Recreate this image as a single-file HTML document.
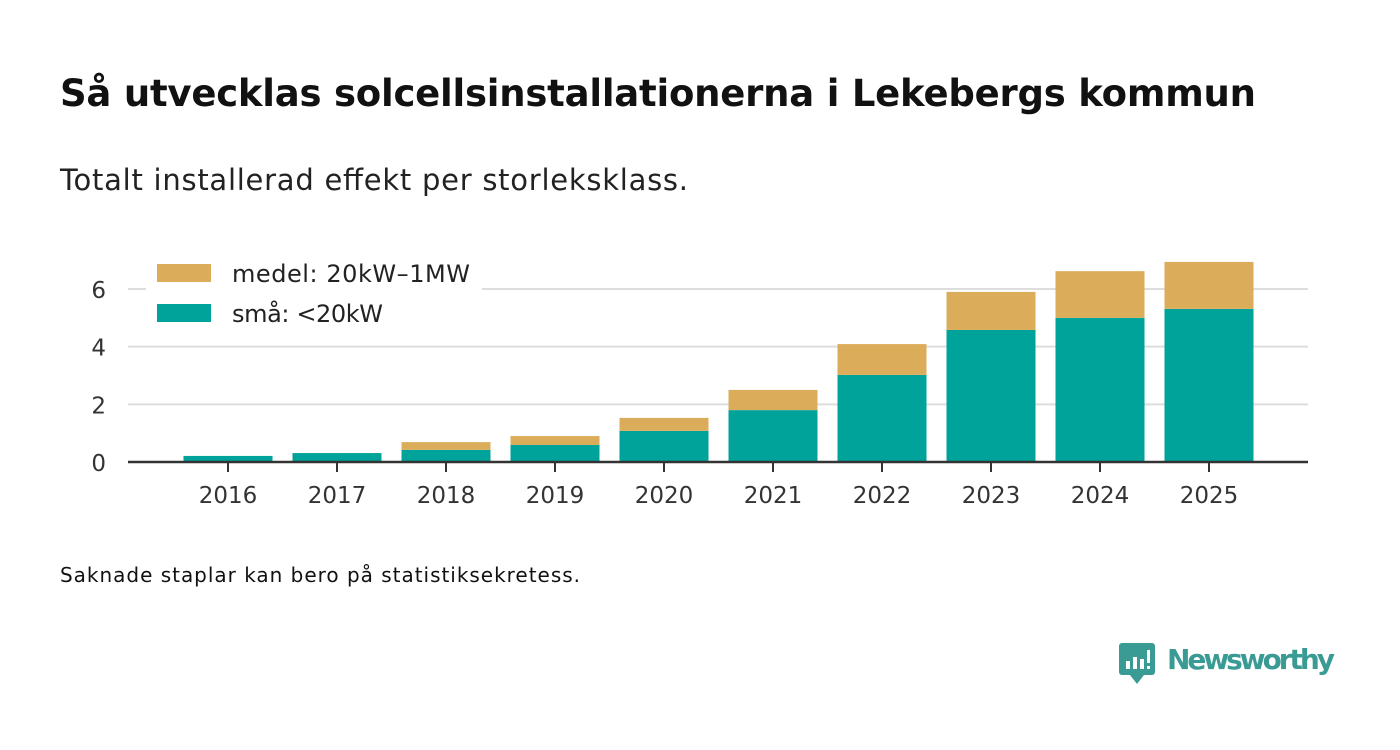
<!DOCTYPE html>
<html><head><meta charset="utf-8">
<style>
body{margin:0;background:#fff;width:1400px;height:745px;overflow:hidden;font-family:"Liberation Sans","DejaVu Sans",sans-serif;}
svg text{font-family:"DejaVu Sans","Liberation Sans",sans-serif;}
</style></head><body>
<svg id="chart" width="1400" height="745" viewBox="0 0 1400 745">
<text x="60" y="106" font-size="37" font-weight="bold" fill="#111" textLength="1196">Så utvecklas solcellsinstallationerna i Lekebergs kommun</text>
<text x="60" y="190" font-size="29" fill="#222" textLength="628">Totalt installerad effekt per storleksklass.</text>
<g id="grid"></g>
<g id="bars"></g>
<g id="axes"></g>
<g>
<rect x="146" y="255" width="336" height="82" fill="#fff"/>
<rect x="157" y="264" width="54" height="18" fill="#dbad5a"/>
<text x="232" y="282" font-size="24" fill="#222" textLength="238">medel: 20kW–1MW</text>
<rect x="157" y="304" width="54" height="18" fill="#00a39a"/>
<text x="232" y="322" font-size="24" fill="#222" textLength="151">små: &lt;20kW</text>
</g>
<text x="60" y="582" font-size="20" fill="#111" textLength="520">Saknade staplar kan bero på statistiksekretess.</text>
<g>
<rect x="1119" y="643" width="36" height="32" rx="3" fill="#3a9a94"/>
<polygon points="1130,675 1144,675 1137,684" fill="#3a9a94"/>
<rect x="1126" y="661" width="4" height="8" fill="#fff"/>
<rect x="1133" y="657" width="4" height="12" fill="#fff"/>
<rect x="1140" y="659" width="4" height="10" fill="#fff"/>
<rect x="1147" y="650" width="3" height="13" fill="#fff"/>
<rect x="1147" y="666" width="3" height="3" fill="#fff"/>
<text x="1167" y="669" font-size="28" font-weight="bold" fill="#3a9a94" textLength="168">Newsworthy</text>
</g>
</svg>
<script>
const years=["2016","2017","2018","2019","2020","2021","2022","2023","2024","2025"];
const sma=[0.21,0.31,0.42,0.59,1.08,1.8,3.02,4.58,5.0,5.31];
const medel=[0,0,0.27,0.31,0.45,0.7,1.07,1.32,1.62,1.63];
const yTicks=[0,2,4,6];
const NS="http://www.w3.org/2000/svg";
const y=v=>462-v*28.83;
const x=i=>228+i*109;
const bw=89;
function mk(t,a,p){const e=document.createElementNS(NS,t);for(const k in a)e.setAttribute(k,a[k]);p.appendChild(e);return e;}
const grid=document.getElementById('grid'),bars=document.getElementById('bars'),axes=document.getElementById('axes');
yTicks.forEach(t=>{
 if(t>0){const l=mk('line',{x1:128,x2:1308,y1:y(t),y2:y(t),stroke:'#ddd','stroke-width':2},grid);
 
 }
 const tx=mk('text',{x:106,y:y(t)+9,'font-size':23,fill:'#333','text-anchor':'end'},axes);tx.textContent=t;
 
 
});
years.forEach((yr,i)=>{
 const r1=mk('rect',{x:x(i)-bw/2,y:y(sma[i]),width:bw,height:y(0)-y(sma[i]),fill:'#00a39a'},bars);
 
 
 if(medel[i]>0){const r2=mk('rect',{x:x(i)-bw/2,y:y(sma[i]+medel[i]),width:bw,height:y(sma[i])-y(sma[i]+medel[i]),fill:'#dbad5a'},bars);
 
 }
 mk('line',{x1:x(i),x2:x(i),y1:462,y2:472,stroke:'#333','stroke-width':2},axes);
 const tx=mk('text',{x:x(i),y:503,'font-size':23,fill:'#333','text-anchor':'middle'},axes);tx.textContent=yr;
 
 
});
const ax=mk('line',{x1:128,x2:1308,y1:462,y2:462,stroke:'#333','stroke-width':2.5},axes);


</script>
</body></html>
